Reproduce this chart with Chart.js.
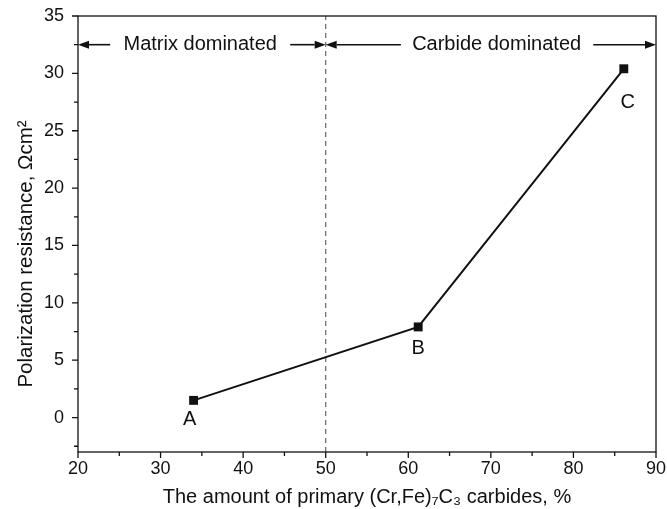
<!DOCTYPE html>
<html>
<head>
<meta charset="utf-8">
<script src="https://cdn.jsdelivr.net/npm/chart.js@4/dist/chart.umd.min.js"></script>
<style>
  html,body{margin:0;padding:0;background:#fff;}
  #wrap{width:667px;height:509px;}
</style>
</head>
<body>
<div id="wrap"><canvas id="c" width="667" height="509"></canvas></div>
<script>
/* ---------- data ---------- */
const carbidePct  = [34, 61.2, 86.1];
const resistance  = [1.5, 7.9, 30.4];
const pointNames  = ['A', 'B', 'C'];

const xTicks = [20, 30, 40, 50, 60, 70, 80, 90];
const yTicks = [0, 5, 10, 15, 20, 25, 30, 35];
const xMinor = [25, 35, 45, 55, 65, 75, 85];
const yMinor = [-2.5, 2.5, 7.5, 12.5, 17.5, 22.5, 27.5, 32.5];

const dividerX = 50;
const regionY  = 32.5;
// label, text centre, left arrow [from,to], right arrow [from,to]
const regions = [
  ['Matrix dominated',  34.8, [23.9, 20], [45.7, 50]],
  ['Carbide dominated', 70.7, [59.1, 50], [82.4, 90]]
];
const yTitle = 'Polarization resistance, \u03A9cm\u00B2';

/* ---------- helpers ---------- */
const FONT = '"Liberation Sans", Arial, sans-serif';
const INK  = '#111';

function arrow(ctx, x0, x1, y){
  const dir = Math.sign(x1 - x0), hl = 11, hw = 4;
  ctx.beginPath(); ctx.moveTo(x0, y); ctx.lineTo(x1 - dir*hl, y); ctx.stroke();
  ctx.beginPath(); ctx.moveTo(x1, y); ctx.lineTo(x1 - dir*hl, y - hw); ctx.lineTo(x1 - dir*hl, y + hw); ctx.closePath(); ctx.fill();
}

const decor = {
  id: 'decor',
  afterDraw(chart){
    const {ctx, chartArea: a, scales: {x, y}} = chart;
    ctx.save();
    ctx.strokeStyle = INK; ctx.fillStyle = INK; ctx.lineWidth = 1.3;
    // frame
    ctx.strokeRect(a.left, a.top, a.right - a.left, a.bottom - a.top);
    // ticks (outward)
    ctx.beginPath();
    xTicks.forEach(v=>{ const p = x.getPixelForValue(v); ctx.moveTo(p, a.bottom); ctx.lineTo(p, a.bottom + 6); });
    xMinor.forEach(v=>{ const p = x.getPixelForValue(v); ctx.moveTo(p, a.bottom); ctx.lineTo(p, a.bottom + 4); });
    yTicks.forEach(v=>{ const p = y.getPixelForValue(v); ctx.moveTo(a.left, p); ctx.lineTo(a.left - 6, p); });
    yMinor.forEach(v=>{ const p = y.getPixelForValue(v); ctx.moveTo(a.left, p); ctx.lineTo(a.left - 4, p); });
    ctx.stroke();
    // region arrows + text
    ctx.lineWidth = 1.6;
    const ry = y.getPixelForValue(regionY);
    ctx.font = '20px ' + FONT; ctx.textAlign = 'center'; ctx.textBaseline = 'middle';
    regions.forEach(([txt, cx, l, r])=>{
      ctx.fillText(txt, x.getPixelForValue(cx), ry);
      arrow(ctx, x.getPixelForValue(l[0]), x.getPixelForValue(l[1]), ry);
      arrow(ctx, x.getPixelForValue(r[0]), x.getPixelForValue(r[1]), ry);
    });
    // point letters
    const meta = chart.getDatasetMeta(0);
    const offs = [[-4, 19], [0, 22], [4, 34]];
    meta.data.forEach((pt, i)=>{
      ctx.fillText(pointNames[i], pt.x + offs[i][0], pt.y + offs[i][1]);
    });
    // y title (sits a little below the axis centre in the original)
    ctx.font = '20.5px ' + FONT;
    ctx.translate(26, (a.top + a.bottom) / 2 + 20);
    ctx.rotate(-Math.PI / 2);
    ctx.fillText(yTitle, 0, 0);
    ctx.restore();
  }
};

new Chart(document.getElementById('c'), {
  type: 'scatter',
  data: {
    datasets: [
      {
        data: carbidePct.map((v, i)=>({x: v, y: resistance[i]})),
        showLine: true, borderColor: INK, borderWidth: 2,
        pointStyle: 'rect', pointRadius: 6.3, pointBackgroundColor: INK, pointBorderWidth: 0
      },
      {
        data: [{x: dividerX, y: -3}, {x: dividerX, y: 35}],
        showLine: true, borderColor: '#666', borderWidth: 1.2, borderDash: [5, 4],
        pointRadius: 0
      }
    ]
  },
  options: {
    responsive: false, animation: false,
    layout: {padding: {top: 16, right: 11, left: 0, bottom: 0}},
    plugins: {legend: {display: false}, tooltip: {enabled: false}},
    scales: {
      x: {
        type: 'linear', min: 20, max: 90,
        afterBuildTicks: s=>{ s.ticks = xTicks.map(v=>({value: v})); },
        afterFit: s=>{ s.height = 57; s.paddingLeft = 0; s.paddingRight = 0; },
        grid: {display: false, drawTicks: false}, border: {display: false},
        ticks: {padding: 6, color: INK, font: {family: FONT, size: 18}, maxRotation: 0},
        title: {display: true, text: 'The amount of primary (Cr,Fe)\u2087C\u2083 carbides, %',
                color: INK, font: {family: FONT, size: 20}, padding: {top: 0, bottom: 0}}
      },
      y: {
        type: 'linear', min: -3, max: 35,
        afterBuildTicks: s=>{ s.ticks = yTicks.map(v=>({value: v})); },
        afterFit: s=>{ s.width = 78; s.paddingTop = 0; s.paddingBottom = 0; },
        grid: {display: false, drawTicks: false}, border: {display: false},
        ticks: {padding: 14, color: INK, font: {family: FONT, size: 18}},
        title: {display: false}
      }
    }
  },
  plugins: [decor]
});
</script>
</body>
</html>
